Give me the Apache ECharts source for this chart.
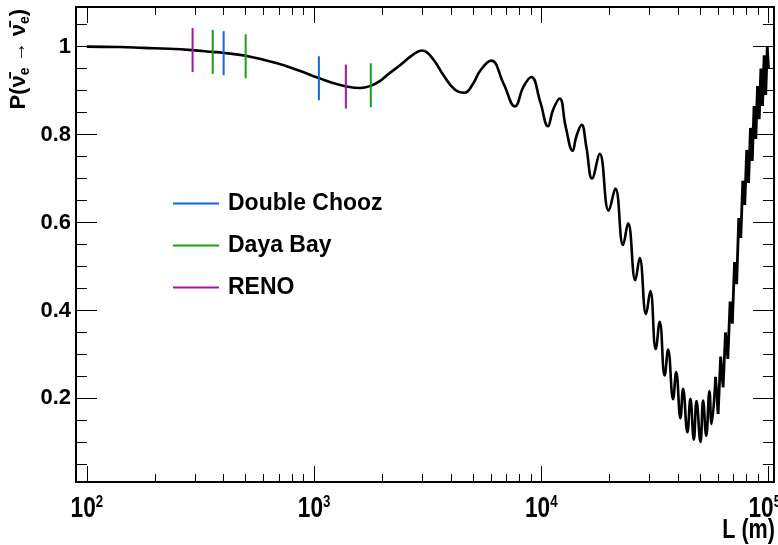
<!DOCTYPE html>
<html>
<head>
<meta charset="utf-8">
<script src="https://cdn.jsdelivr.net/npm/echarts@6/dist/echarts.min.js"></script>
<style>
  html, body { margin: 0; padding: 0; background: #ffffff; }
  #chart { width: 778px; height: 545px; }
</style>
</head>
<body>
<div id="chart"></div>
<script>
// Reactor antineutrino survival probability versus baseline L (m)
const baselineL = [
  100, 140, 178, 230, 290, 358, 396, 500, 687, 850,
  1041, 1200, 1374, 1596, 1777, 1954, 2093, 2396, 2700, 2980,
  3300, 3712, 4150, 4590, 5000, 5383, 6020, 6819, 7656, 8350,
  9036, 9886, 10700, 11256, 12040, 12800, 13740, 14250, 15045, 15780,
  16725, 18066, 19790, 21185, 22900, 24100, 25930, 27100, 28900, 30200,
  31880, 33200, 34900, 36150, 38000, 39220, 40950, 42070, 43950, 45300,
  46900, 48200, 50170, 51530, 53170, 54950, 56100, 58430, 60000, 61550,
  63100, 64650, 66200, 67750, 69300, 70850, 72400, 73950, 75500, 77050,
  78600, 80150, 81700, 83250, 84800, 86350, 87900, 89450, 91000, 92550,
  94100, 95650, 97200, 98750, 100000
];
const survivalP = [
  1.000, 0.999, 0.997, 0.995, 0.992, 0.988, 0.986, 0.979, 0.962, 0.946,
  0.929, 0.918, 0.910, 0.906, 0.911, 0.922, 0.935, 0.958, 0.980, 0.991,
  0.975, 0.935, 0.903, 0.895, 0.915, 0.945, 0.968, 0.916, 0.864, 0.909,
  0.931, 0.875, 0.819, 0.856, 0.882, 0.818, 0.763, 0.795, 0.822, 0.772,
  0.700, 0.756, 0.627, 0.677, 0.549, 0.598, 0.469, 0.519, 0.392, 0.444,
  0.312, 0.374, 0.252, 0.311, 0.198, 0.260, 0.155, 0.222, 0.123, 0.199,
  0.106, 0.194, 0.101, 0.195, 0.115, 0.217, 0.142, 0.249, 0.165, 0.295,
  0.225, 0.350, 0.290, 0.420, 0.370, 0.510, 0.460, 0.610, 0.565, 0.695,
  0.640, 0.765, 0.690, 0.815, 0.740, 0.865, 0.790, 0.910, 0.835, 0.950,
  0.865, 0.980, 0.890, 1.000, 0.950
];
// Beyond this baseline the fast oscillations are drawn as a straight zigzag
const denseFromL = 58430;

// Detector baselines (m) and the survival probability at each
const doubleChoozL = [400, 1050];
const doubleChoozP = [0.985, 0.928];
const dayaBayL = [358, 500, 1777];
const dayaBayP = [0.988, 0.978, 0.912];
const renoL = [292, 1380];
const renoP = [0.992, 0.909];

// Axis ticks
const xMajorTicks = [100, 1000, 10000, 100000];
const xMinorTicks = [
  200, 300, 400, 500, 600, 700, 800, 900,
  2000, 3000, 4000, 5000, 6000, 7000, 8000, 9000,
  20000, 30000, 40000, 50000, 60000, 70000, 80000, 90000
];
const yMajorTicks = [0.2, 0.4, 0.6, 0.8, 1.0];
const yMinorTicks = [
  0.05, 0.1, 0.15, 0.25, 0.3, 0.35, 0.45, 0.5, 0.55,
  0.65, 0.7, 0.75, 0.85, 0.9, 0.95, 1.05
];

const X_MIN = 89.6, X_MAX = 105700;
const Y_MIN = 0.01, Y_MAX = 1.09;
const BAR_HALF = 0.05;

const sans = "'Liberation Sans', Arial, Helvetica, sans-serif";

const zip = (a, b) => a.map((v, i) => [v, b[i]]);
const curve = zip(baselineL, survivalP);
const curveSlow = curve.filter(d => d[0] <= denseFromL);
const curveFast = curve.filter(d => d[0] >= denseFromL);

function tickAxis(pos, type, values, len, extra) {
  const isX = pos === 'bottom' || pos === 'top';
  const ax = {
    type: type,
    position: pos,
    min: isX ? X_MIN : Y_MIN,
    max: isX ? X_MAX : Y_MAX,
    axisLine: { show: false },
    splitLine: { show: false },
    axisTick: {
      show: true, inside: true, length: len,
      customValues: values,
      lineStyle: { color: '#000', width: 1 }
    },
    axisLabel: { show: false },
    silent: true
  };
  if (type === 'log') ax.logBase = 10;
  return Object.assign(ax, extra || {});
}

function barSeries(name, color, L, P) {
  return {
    name: name,
    type: 'custom',
    xAxisIndex: 0,
    yAxisIndex: 0,
    z: 5,
    itemStyle: { color: color },
    encode: { x: 0, y: 1 },
    data: zip(L, P),
    renderItem: function (params, api) {
      const lo = api.coord([api.value(0), api.value(1) - BAR_HALF]);
      const hi = api.coord([api.value(0), api.value(1) + BAR_HALF]);
      return {
        type: 'line',
        shape: { x1: lo[0], y1: lo[1], x2: hi[0], y2: hi[1] },
        style: { stroke: color, lineWidth: 2 }
      };
    }
  };
}

const chart = echarts.init(document.getElementById('chart'), null, { renderer: 'canvas' });

chart.setOption({
  animation: false,
  backgroundColor: '#ffffff',
  grid: {
    left: 76, right: 4, top: 7, bottom: 63,
    containLabel: false,
    outerBoundsMode: 'none',
    show: true, borderColor: '#000', borderWidth: 2,
    backgroundColor: 'transparent'
  },
  xAxis: [
    tickAxis('bottom', 'log', xMajorTicks, 16),
    tickAxis('bottom', 'log', xMinorTicks, 8),
    tickAxis('top', 'log', xMajorTicks, 16),
    tickAxis('top', 'log', xMinorTicks, 8)
  ],
  yAxis: [
    tickAxis('left', 'value', yMajorTicks, 21, {
      axisLabel: {
        show: true,
        customValues: yMajorTicks,
        margin: 5,
        fontFamily: sans, fontWeight: 'bold', fontSize: 22, color: '#000',
        formatter: function (v) { return v === 1 ? '1' : v.toFixed(1); }
      }
    }),
    tickAxis('left', 'value', yMinorTicks, 11),
    tickAxis('right', 'value', yMajorTicks, 21),
    tickAxis('right', 'value', yMinorTicks, 11)
  ],
  legend: {
    orient: 'vertical',
    left: 173, top: 192,
    padding: 0,
    itemWidth: 46, itemHeight: 2, itemGap: 19,
    icon: 'rect',
    textStyle: { fontFamily: sans, fontWeight: 'bold', fontSize: 23, color: '#000', padding: [0, 0, 0, 4] },
    data: ['Double Chooz', 'Daya Bay', 'RENO']
  },
  series: [
    {
      name: 'P',
      type: 'line',
      xAxisIndex: 0,
      yAxisIndex: 0,
      data: curveSlow,
      showSymbol: false,
      smooth: 0.45,
      lineStyle: { color: '#000', width: 2.6 },
      z: 3
    },
    {
      name: 'P fast',
      type: 'line',
      xAxisIndex: 0,
      yAxisIndex: 0,
      data: curveFast,
      showSymbol: false,
      smooth: false,
      lineStyle: { color: '#000', width: 2.8, join: 'miter', miterLimit: 3 },
      z: 3
    },
    barSeries('Double Chooz', '#1466d2', doubleChoozL, doubleChoozP),
    barSeries('Daya Bay', '#1a9e1a', dayaBayL, dayaBayP),
    barSeries('RENO', '#a514a8', renoL, renoP)
  ]
});

// Decade labels (10^n) and axis titles, placed with the axis scale
const labelRich = {
  b: { fontFamily: sans, fontWeight: 'bold', fontSize: 29, fill: '#000', lineHeight: 30 },
  s: { fontFamily: sans, fontWeight: 'bold', fontSize: 17, fill: '#000', lineHeight: 17, verticalAlign: 'top' }
};
const decadeLabels = xMajorTicks.map(function (v, i) {
  const px = chart.convertToPixel({ xAxisIndex: 0 }, v);
  const last = i === xMajorTicks.length - 1;
  return {
    type: 'text',
    x: last ? 781 : px, y: 494,
    scaleX: 0.78,
    silent: true,
    style: {
      text: '{b|10}{s|' + Math.round(Math.log10(v)) + '}',
      align: last ? 'right' : 'center', verticalAlign: 'top',
      rich: labelRich
    }
  };
});

chart.setOption({
  graphic: decadeLabels.concat([
    {
      type: 'text',
      x: 775, y: 517,
      scaleX: 0.8,
      silent: true,
      style: {
        text: 'L (m)',
        align: 'right', verticalAlign: 'top',
        fontFamily: sans, fontWeight: 'bold', fontSize: 27, fill: '#000'
      }
    },
    {
      type: 'text',
      x: 6, y: 9,
      rotation: Math.PI / 2,
      silent: true,
      style: {
        text: '{t|P(}{n|ν̄}{e|e}{a| → }{n|ν̄}{e|e}{t|)}',
        align: 'right',
        verticalAlign: 'top',
        rich: {
          t: { fontFamily: sans, fontWeight: 'bold', fontSize: 22, fill: '#000', lineHeight: 26 },
          n: { fontFamily: sans, fontWeight: 'bold', fontSize: 22, fill: '#000', lineHeight: 26 },
          a: { fontFamily: sans, fontWeight: 'normal', fontSize: 20, fill: '#000', lineHeight: 26 },
          e: { fontFamily: sans, fontWeight: 'bold', fontSize: 14, fill: '#000', lineHeight: 15, verticalAlign: 'bottom' }
        }
      }
    }
  ])
});
</script>
</body>
</html>
